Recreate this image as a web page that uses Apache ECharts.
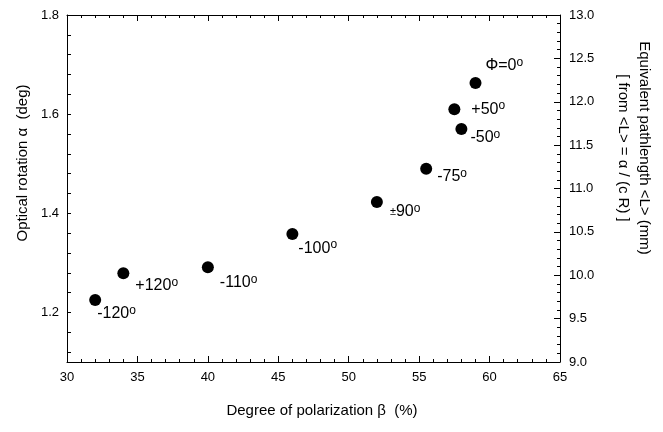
<!DOCTYPE html>
<html>
<head>
<meta charset="utf-8">
<script src="https://cdn.jsdelivr.net/npm/echarts@6/dist/echarts.min.js"></script>
<style>
  html, body { margin: 0; padding: 0; background: #fff; }
  #chart { width: 663px; height: 432px; }
</style>
</head>
<body>
<div id="chart"></div>
<script>
// polarization beta (%) vs optical rotation alpha (deg), one point per phi
const polarization = [32, 34, 40, 46, 52, 55.5, 57.5, 58, 59]
const rotation = [1.225, 1.279, 1.291, 1.358, 1.423, 1.490, 1.610, 1.570, 1.663]
const phiLabels = ['-120', '+120', '-110', '-100', '±90', '-75', '+50', '-50', 'Φ=0']
const leftLabels = [1.2, 1.4, 1.6, 1.8]
const leftTicks = [1.12, 1.16, 1.2, 1.24, 1.28, 1.32, 1.36, 1.4, 1.44, 1.48, 1.52, 1.56, 1.6, 1.64, 1.68, 1.72, 1.76, 1.8]

// where each label sits relative to its dot (px)
const labelOffsets = [[2, 14], [12, 12], [12, 15], [6, 14], [13, 10], [11, 8], [17, 0], [9, 9], [10, -17]]

const FONT = 'Arial, "Liberation Sans", sans-serif'
const BLACK = '#000'

const chart = echarts.init(document.getElementById('chart'))

const points = polarization.map((x, i) => ({
  value: [x, rotation[i]],
  label: { offset: labelOffsets[i] }
}))

function fmtLabel (p) {
  const t = phiLabels[p.dataIndex]
  if (t.charAt(0) === '±') {
    return '{pm|±}{t|' + t.slice(1) + '}{sup|o}'
  }
  return '{t|' + t + '}{sup|o}'
}

const nameStyle = { color: BLACK, fontSize: 15, fontFamily: FONT }

chart.setOption({
  animation: false,
  grid: { left: 67, right: 103, top: 15, bottom: 70 },
  xAxis: [
    {
      type: 'value',
      min: 30,
      max: 65,
      interval: 5,
      name: 'Degree of polarization β  (%)',
      nameLocation: 'middle',
      nameGap: 41,
      nameMoveOverlap: false,
      nameTextStyle: Object.assign({ padding: [0, 0, 0, 17] }, nameStyle),
      axisLine: { show: true, onZero: false, lineStyle: { color: BLACK } },
      axisTick: { show: true, inside: true, length: 6, lineStyle: { color: BLACK } },
      minorTick: { show: true, splitNumber: 5, length: 3, lineStyle: { color: BLACK } },
      axisLabel: { color: BLACK, fontSize: 13, fontFamily: FONT, margin: 9 },
      splitLine: { show: false }
    },
    {
      type: 'value',
      position: 'top',
      min: 30,
      max: 65,
      interval: 5,
      axisLine: { show: true, onZero: false, lineStyle: { color: BLACK } },
      axisTick: { show: true, inside: true, length: 6, lineStyle: { color: BLACK } },
      minorTick: { show: true, splitNumber: 5, length: 3, lineStyle: { color: BLACK } },
      axisLabel: { show: false },
      splitLine: { show: false }
    }
  ],
  yAxis: [
    {
      type: 'value',
      position: 'left',
      min: 1.1,
      max: 1.8,
      name: 'Optical rotation α  (deg)',
      nameLocation: 'middle',
      nameRotate: 90,
      nameGap: 37,
      nameMoveOverlap: false,
      nameTextStyle: Object.assign({ padding: [0, 0, 0, 51] }, nameStyle),
      axisLine: { show: true, onZero: false, lineStyle: { color: BLACK } },
      axisTick: { show: true, inside: true, length: 4, customValues: leftTicks, lineStyle: { color: BLACK } },
      axisLabel: {
        color: BLACK, fontSize: 13, fontFamily: FONT, margin: 8,
        customValues: leftLabels,
        formatter: v => v.toFixed(1)
      },
      splitLine: { show: false }
    },
    {
      type: 'value',
      position: 'right',
      min: 9,
      max: 13,
      interval: 0.5,
      name: 'Equivalent pathlength <L> (mm)\n[ from <L> = α / (c R) ]',
      nameLocation: 'middle',
      nameRotate: -90,
      nameGap: 53,
      nameMoveOverlap: false,
      nameTextStyle: Object.assign({ padding: [0, 81, 0, 0], lineHeight: 21 }, nameStyle),
      axisLine: { show: true, onZero: false, lineStyle: { color: BLACK } },
      axisTick: { show: true, inside: true, length: 6, lineStyle: { color: BLACK } },
      minorTick: { show: true, splitNumber: 5, length: 3, lineStyle: { color: BLACK } },
      axisLabel: {
        color: BLACK, fontSize: 13, fontFamily: FONT, margin: 9,
        formatter: v => v.toFixed(1)
      },
      splitLine: { show: false }
    }
  ],
  series: [{
    type: 'scatter',
    symbol: 'circle',
    symbolSize: 12,
    itemStyle: { color: BLACK, opacity: 1 },
    data: points,
    label: {
      show: true,
      position: 'inside',
      align: 'left',
      verticalAlign: 'middle',
      color: BLACK,
      formatter: fmtLabel,
      rich: {
        t: { fontSize: 16, fontFamily: FONT, color: BLACK, lineHeight: 18 },
        pm: { fontSize: 11, fontFamily: FONT, color: BLACK },
        sup: { fontSize: 12, fontFamily: FONT, color: BLACK, verticalAlign: 'top', padding: [0, 0, 6, 0] }
      }
    }
  }]
})

// ticks only showed up in the screenshot after forcing the display list to update
const zr = chart.getZr()
zr.storage.getDisplayList(true)
zr.refreshImmediately()
</script>
</body>
</html>
